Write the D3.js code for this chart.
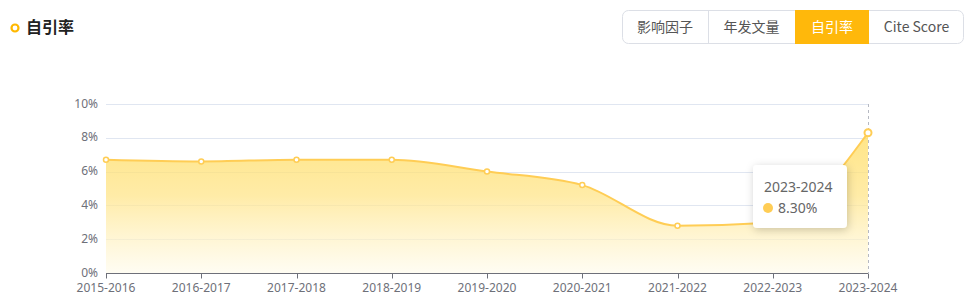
<!DOCTYPE html>
<html>
<head>
<meta charset="utf-8">
<script src="https://cdn.jsdelivr.net/npm/d3@7"></script>
<style>
  body { margin: 0; background: #fff; font-family: "Microsoft YaHei", "Noto Sans CJK SC", sans-serif; }
  svg { display: block; }
</style>
</head>
<body>
<svg id="chart" width="973" height="300"></svg>
<script>
const years = ["2015-2016", "2016-2017", "2017-2018", "2018-2019", "2019-2020", "2020-2021", "2021-2022", "2022-2023", "2023-2024"];
const rates = [6.7, 6.6, 6.7, 6.7, 6.0, 5.2, 2.8, 3.0, 8.3];
const yTicks = [0, 2, 4, 6, 8, 10];
const tabs = ["影响因子", "年发文量", "自引率", "Cite Score"];
const activeTab = "自引率";
const hoverIndex = 8;

const svg = d3.select("#chart");
const font = "'Noto Sans CJK SC', sans-serif";
const latin = "'Noto Sans', 'Noto Sans CJK SC', sans-serif";

// title
svg.append("circle").attr("cx", 15).attr("cy", 28).attr("r", 3.5)
    .attr("fill", "none").attr("stroke", "#ffb800").attr("stroke-width", 2.2);
svg.append("text").attr("x", 26).attr("y", 33)
    .attr("font-family", font).attr("font-size", 16).attr("font-weight", "bold")
    .attr("fill", "#222").text("自引率");

// tab buttons
const tabW = [86, 87, 74, 95];
let tx = 622;
const tabG = svg.append("g");
tabG.append("rect").attr("x", 622.5).attr("y", 10.5).attr("width", 341).attr("height", 33)
    .attr("rx", 6).attr("fill", "#fff").attr("stroke", "#dcdfe6");
tabs.forEach((t, i) => {
    if (t === activeTab) {
        tabG.append("rect").attr("x", tx).attr("y", 10).attr("width", tabW[i]).attr("height", 34)
            .attr("fill", "#ffb80b");
    } else if (i > 0 && tabs[i - 1] !== activeTab) {
        tabG.append("line").attr("x1", tx + 0.5).attr("x2", tx + 0.5).attr("y1", 11).attr("y2", 43)
            .attr("stroke", "#dcdfe6");
    }
    tabG.append("text").attr("x", tx + tabW[i] / 2).attr("y", 32)
        .attr("text-anchor", "middle").attr("font-family", font).attr("font-size", 14)
        .attr("fill", t === activeTab ? "#fff" : "#555").text(t);
    tx += tabW[i];
});

// chart
const x = d3.scalePoint().domain(years).range([106, 868]);
const y = d3.scaleLinear().domain([0, 10]).range([273, 104]);

const defs = svg.append("defs");
const grad = defs.append("linearGradient").attr("id", "fillGrad")
    .attr("gradientUnits", "userSpaceOnUse")
    .attr("x1", 0).attr("y1", y(8.3)).attr("x2", 0).attr("y2", y(0));
grad.append("stop").attr("offset", 0).attr("stop-color", "#ffdc5e").attr("stop-opacity", 0.75);
grad.append("stop").attr("offset", 0.45).attr("stop-color", "#ffe58a").attr("stop-opacity", 0.75);
grad.append("stop").attr("offset", 1).attr("stop-color", "#fffbea").attr("stop-opacity", 0.6);

const filt = defs.append("filter").attr("id", "shadow").attr("x", "-30%").attr("y", "-30%")
    .attr("width", "160%").attr("height", "160%");
filt.append("feDropShadow").attr("dx", 1).attr("dy", 2).attr("stdDeviation", 4)
    .attr("flood-color", "#000").attr("flood-opacity", 0.2);

// grid
svg.append("g").selectAll("line").data(yTicks.filter(d => d > 0)).join("line")
    .attr("x1", 106).attr("x2", 868)
    .attr("y1", d => Math.round(y(d)) + 0.5).attr("y2", d => Math.round(y(d)) + 0.5)
    .attr("stroke", "#e0e6f1");

// y labels
svg.append("g").selectAll("text").data(yTicks).join("text")
    .attr("x", 98).attr("y", d => y(d) + 3.5)
    .attr("text-anchor", "end").attr("font-family", latin).attr("font-size", 12)
    .attr("fill", "#6e7079").text(d => d + "%");

const pts = years.map((d, i) => ({ year: d, v: rates[i] }));

const area = d3.area().x(d => x(d.year)).y0(y(0)).y1(d => y(d.v)).curve(d3.curveMonotoneX);
const line = d3.line().x(d => x(d.year)).y(d => y(d.v)).curve(d3.curveMonotoneX);

svg.append("path").datum(pts).attr("d", area).attr("fill", "url(#fillGrad)");

// hover pointer line
svg.append("line").attr("x1", x(years[hoverIndex]) + 0.5).attr("x2", x(years[hoverIndex]) + 0.5)
    .attr("y1", y(10)).attr("y2", y(0))
    .attr("stroke", "#b6b9c2").attr("stroke-dasharray", "3,3");

svg.append("path").datum(pts).attr("d", line).attr("fill", "none")
    .attr("stroke", "#ffcd55").attr("stroke-width", 2);

// x axis
const xAxis = svg.append("g").attr("transform", `translate(0,${Math.round(y(0)) + 0.5})`);
xAxis.append("line").attr("x1", 106).attr("x2", 868).attr("stroke", "#6e7079");
xAxis.selectAll(".tk").data(years).join("line").attr("class", "tk")
    .attr("x1", d => Math.round(x(d)) + 0.5).attr("x2", d => Math.round(x(d)) + 0.5)
    .attr("y1", 0).attr("y2", 5).attr("stroke", "#6e7079");
xAxis.selectAll("text").data(years).join("text")
    .attr("x", d => x(d)).attr("y", 18.5)
    .attr("text-anchor", "middle").attr("font-family", latin).attr("font-size", 12)
    .attr("fill", "#6e7079").text(d => d);

// points
svg.append("g").selectAll("circle").data(pts).join("circle")
    .attr("cx", d => x(d.year)).attr("cy", d => y(d.v))
    .attr("r", (d, i) => i === hoverIndex ? 3.5 : 2.5)
    .attr("fill", "#fff").attr("stroke", "#ffcd55")
    .attr("stroke-width", (d, i) => i === hoverIndex ? 2 : 1.5);

// tooltip
const tip = svg.append("g").attr("transform", "translate(753,165)");
tip.append("rect").attr("width", 94).attr("height", 63).attr("rx", 4)
    .attr("fill", "#fff").attr("filter", "url(#shadow)");
tip.append("text").attr("x", 11).attr("y", 27).attr("font-family", latin).attr("font-size", 14)
    .attr("fill", "#666").text(years[hoverIndex]);
tip.append("circle").attr("cx", 15).attr("cy", 43).attr("r", 5).attr("fill", "#ffcd55");
tip.append("text").attr("x", 25).attr("y", 48).attr("font-family", latin).attr("font-size", 14)
    .attr("fill", "#666").text(rates[hoverIndex].toFixed(2) + "%");
</script>
</body>
</html>
